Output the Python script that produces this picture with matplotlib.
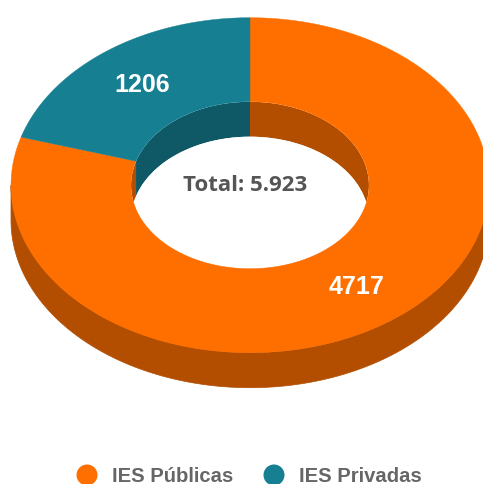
import numpy as np
import matplotlib
matplotlib.use("Agg")
import matplotlib.pyplot as plt
from matplotlib.patches import Ellipse

categories = ["IES Públicas", "IES Privadas"]
values = [4717, 1206]
colors = ["#FF6F00", "#167F92"]
dark_colors = ["#B34E00", "#0F5967"]
center_label = "Total: 5.923"

CX, CY = 250.0, 186.2
RX, RY = 239.0, 167.5
IX, IY = 119.0, 83.5
DEPTH = 35.0

fig = plt.figure(figsize=(4.83, 4.85), dpi=100)
ax = fig.add_axes([0, 0, 1, 1])
ax.set_xlim(0, 483)
ax.set_ylim(485, 0)
ax.axis("off")


def arc(rx, ry, a0, a1, dz=0.0, n=240):
    # angles clockwise from the top of the ellipse
    t = np.linspace(a0, a1, n)
    return CX + rx * np.sin(t), CY - ry * np.cos(t) + dz


total = sum(values)
edges = np.concatenate([[0], np.cumsum(values)]) / total * 2 * np.pi

# outer wall (front half only)
for i in range(len(values)):
    a0, a1 = max(edges[i], np.pi / 2), min(edges[i + 1], 3 * np.pi / 2)
    if a1 > a0:
        x0, y0 = arc(RX, RY, a0, a1)
        x1, y1 = arc(RX, RY, a0, a1, DEPTH)
        ax.fill(np.r_[x0, x1[::-1]], np.r_[y0, y1[::-1]],
                color=dark_colors[i], lw=0.5, zorder=1)

# inner wall seen through the hole (back half), clipped by the hole opening
hole = Ellipse((CX, CY), 2 * IX, 2 * IY, transform=ax.transData)
for i in range(len(values)):
    a0, a1 = edges[i], edges[i + 1]
    x0, y0 = arc(IX, IY, a0, a1)
    x1, y1 = arc(IX, IY, a0, a1, DEPTH)
    for p in ax.fill(np.r_[x0, x1[::-1]], np.r_[y0, y1[::-1]],
                     color=dark_colors[i], lw=0, zorder=2):
        p.set_clip_path(hole)
# white floor of the hole
floor = ax.add_patch(Ellipse((CX, CY + DEPTH), 2 * IX, 2 * IY, fc="white", ec="none", zorder=3))
floor.set_clip_path(hole)

# top face
for i in range(len(values)):
    a0, a1 = edges[i], edges[i + 1]
    x0, y0 = arc(RX, RY, a0, a1)
    x1, y1 = arc(IX, IY, a0, a1)
    ax.fill(np.r_[x0, x1[::-1]], np.r_[y0, y1[::-1]],
            color=colors[i], lw=0.3, zorder=4)

# value labels
label_pos = [(357, 287), (142, 85.5)]
for v, (x, y) in zip(values, label_pos):
    ax.text(x, y, str(v), color="white", ha="center", va="center", zorder=5,
            fontsize=18, fontweight="bold", family="Liberation Sans")

ax.text(245.5, 185.5, center_label, color="#555555", ha="center", va="center", zorder=5,
        fontsize=16, fontweight="bold", family="Open Sans")

# legend
leg_x = [87, 274]
for name, c, x in zip(categories, colors, leg_x):
    ax.add_patch(Ellipse((x, 476), 21, 21, fc=c, ec="none", zorder=5))
    ax.text(x + 25, 477, name, color="#666666", ha="left", va="center", zorder=5,
            fontsize=14.6, fontweight="bold", family="Liberation Sans")

fig.savefig("out.png", dpi=100, facecolor="white")
